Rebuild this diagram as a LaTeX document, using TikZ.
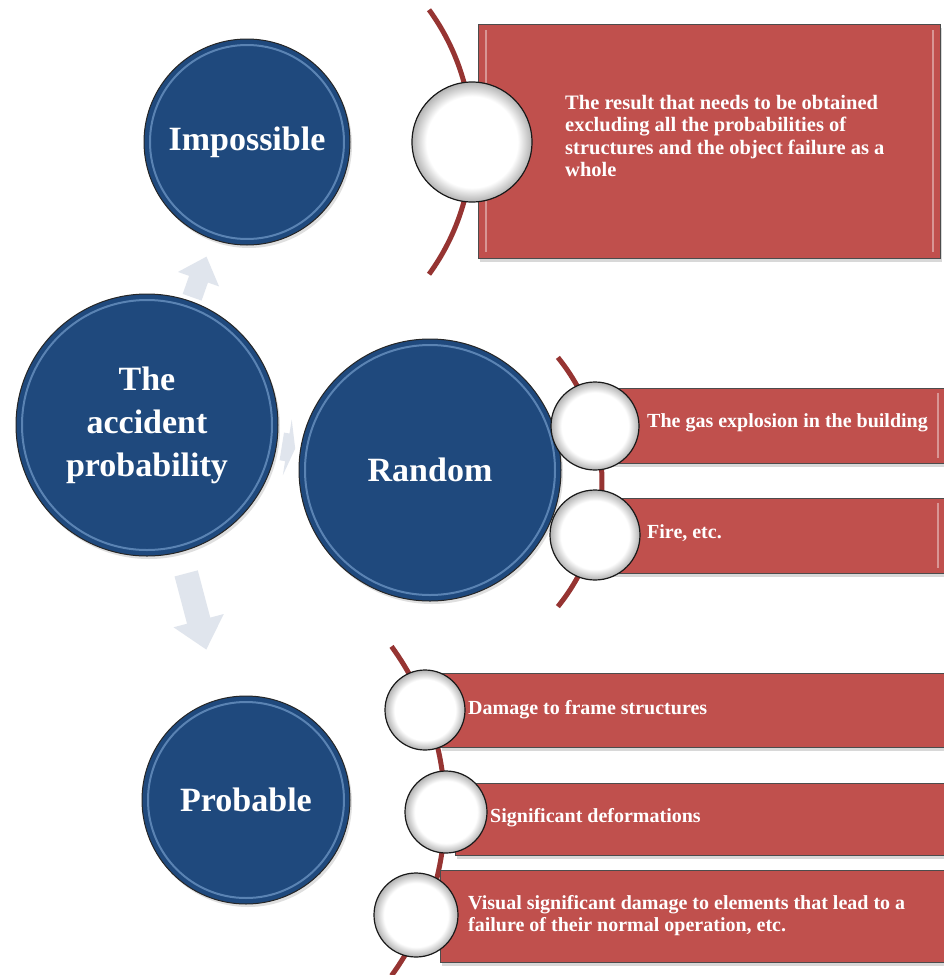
\documentclass[tikz,border=0pt]{standalone}
\usepackage{fontspec}
\setmainfont{Liberation Serif}
\usetikzlibrary{arrows.meta,shadows}
\definecolor{navy}{RGB}{31,73,125}
\definecolor{rimblue}{RGB}{140,180,225}
\definecolor{barred}{RGB}{192,80,77}
\definecolor{arcred}{RGB}{150,52,50}
\definecolor{arrowgray}{RGB}{224,229,237}
\pgfdeclareradialshading{ballwhite}{\pgfpoint{0bp}{0bp}}{color(0bp)=(white); color(19bp)=(white); color(25bp)=(black!30); color(50bp)=(black!30)}
\tikzset{
  hub/.style={circle, draw=black!85, line width=1pt, fill=navy, text=white,
    font=\bfseries\fontsize{34}{43}\selectfont, align=center, inner sep=0pt,
    drop shadow={opacity=0.25, shadow xshift=2pt, shadow yshift=-3pt}},
  ball/.style={circle, draw=black!90, line width=1.2pt, shading=ballwhite, inner sep=0pt},
  bar/.style={rectangle, draw=black!70, line width=1pt, fill=barred, inner sep=0pt,
    anchor=north west, drop shadow={opacity=0.3, shadow xshift=1pt, shadow yshift=-3pt}},
  bartext/.style={text=white, font=\bfseries\fontsize{20}{22}\selectfont, align=left,
    anchor=west, inner sep=0pt},
  bracket/.style={arcred, line width=5pt},
  bevel/.style={barred!50!white, line width=1.5pt, opacity=0.8},
  flow/.style={arrowgray, line cap=butt}
}
\begin{document}
\begin{tikzpicture}[x=1pt, y=-1pt]
  \fill[white] (0,0) rectangle (943,975);
  \useasboundingbox (0,0) rectangle (943,975);

  % the four hubs
  \node[hub, minimum size=206pt] (imp) at (247,142) {Impossible};
  \node[hub, minimum size=262pt] (acc) at (147,425) {The\\accident\\probability};
  \node[hub, minimum size=262pt] (rnd) at (430,470) {Random};
  \node[hub, minimum size=208pt] (prb) at (246,800) {Probable};
  \foreach \h/\r in {imp/97, acc/125, rnd/125, prb/98}
    \draw[rimblue, line width=2pt, opacity=0.55] (\h.center) circle (\r);

  % brackets behind the balls
  \draw[bracket] (247,142) ++(-36:225) arc[start angle=-36, end angle=36, radius=225];
  \draw[bracket] (404,482) ++(-39:198) arc[start angle=-39, end angle=39, radius=198];
  \draw[bracket] (165,811) ++(-36:280) arc[start angle=-36, end angle=36, radius=280];

  % impossible
  \node[bar, minimum width=462pt, minimum height=234pt] (impbox) at (478,24) {};
  \draw[bevel] (486,30) -- (486,252) (933,30) -- (933,252);
  \node[bartext, font=\bfseries\fontsize{20.5}{22.5}\selectfont] (imptxt) at (565,136)
    {The result that needs to be obtained\\excluding all the probabilities of\\structures and the object failure as a\\whole};
  \node[ball, minimum size=120pt] (impball) at (472,142) {};

  % random
  \node[bar, minimum width=350pt, minimum height=75pt] (rndbarA) at (600,388) {};
  \node[bar, minimum width=350pt, minimum height=75pt] (rndbarB) at (600,498) {};
  \draw[bevel] (938,393) -- (938,458) (938,503) -- (938,568);
  \node[bartext] (rndtxtA) at (647,423) {The gas explosion in the building};
  \node[bartext] (rndtxtB) at (647,533) {Fire, etc.};
  \node[ball, minimum size=88pt] (rndballA) at (595,426) {};
  \node[ball, minimum size=90pt] (rndballB) at (595,535) {};

  % probable
  \node[bar, minimum width=510pt, minimum height=74pt] (prbbarA) at (440,673) {};
  \node[bar, minimum width=495pt, minimum height=72pt] (prbbarB) at (455,783) {};
  \node[bar, minimum width=510pt, minimum height=92pt] (prbbarC) at (440,870) {};
  \node[bartext] (prbtxtA) at (468,710) {Damage to frame structures};
  \node[bartext] (prbtxtB) at (490,818) {Significant deformations};
  \node[bartext] (prbtxtC) at (468,916) {Visual significant damage to elements that lead to a\\failure of their normal operation, etc.};
  \node[ball, minimum size=80pt] (prbballA) at (425,710) {};
  \node[ball, minimum size=82pt] (prbballB) at (446,812) {};
  \node[ball, minimum size=84pt] (prbballC) at (416,915) {};

  % arrows from the accident probability
  \draw[flow, line width=20pt, -{Triangle[length=24pt, width=42pt]},
    shorten <=4pt, shorten >=18pt] (acc) -- (imp);
  \draw[flow, line width=28pt, -{Triangle[length=8pt, width=56pt]},
    shorten <=5pt, shorten >=5pt] (acc) -- (rnd);
  \draw[flow, line width=24pt, -{Triangle[length=30pt, width=50pt]},
    shorten <=22pt, shorten >=51pt] (acc) -- (prb);
\end{tikzpicture}
\end{document}
